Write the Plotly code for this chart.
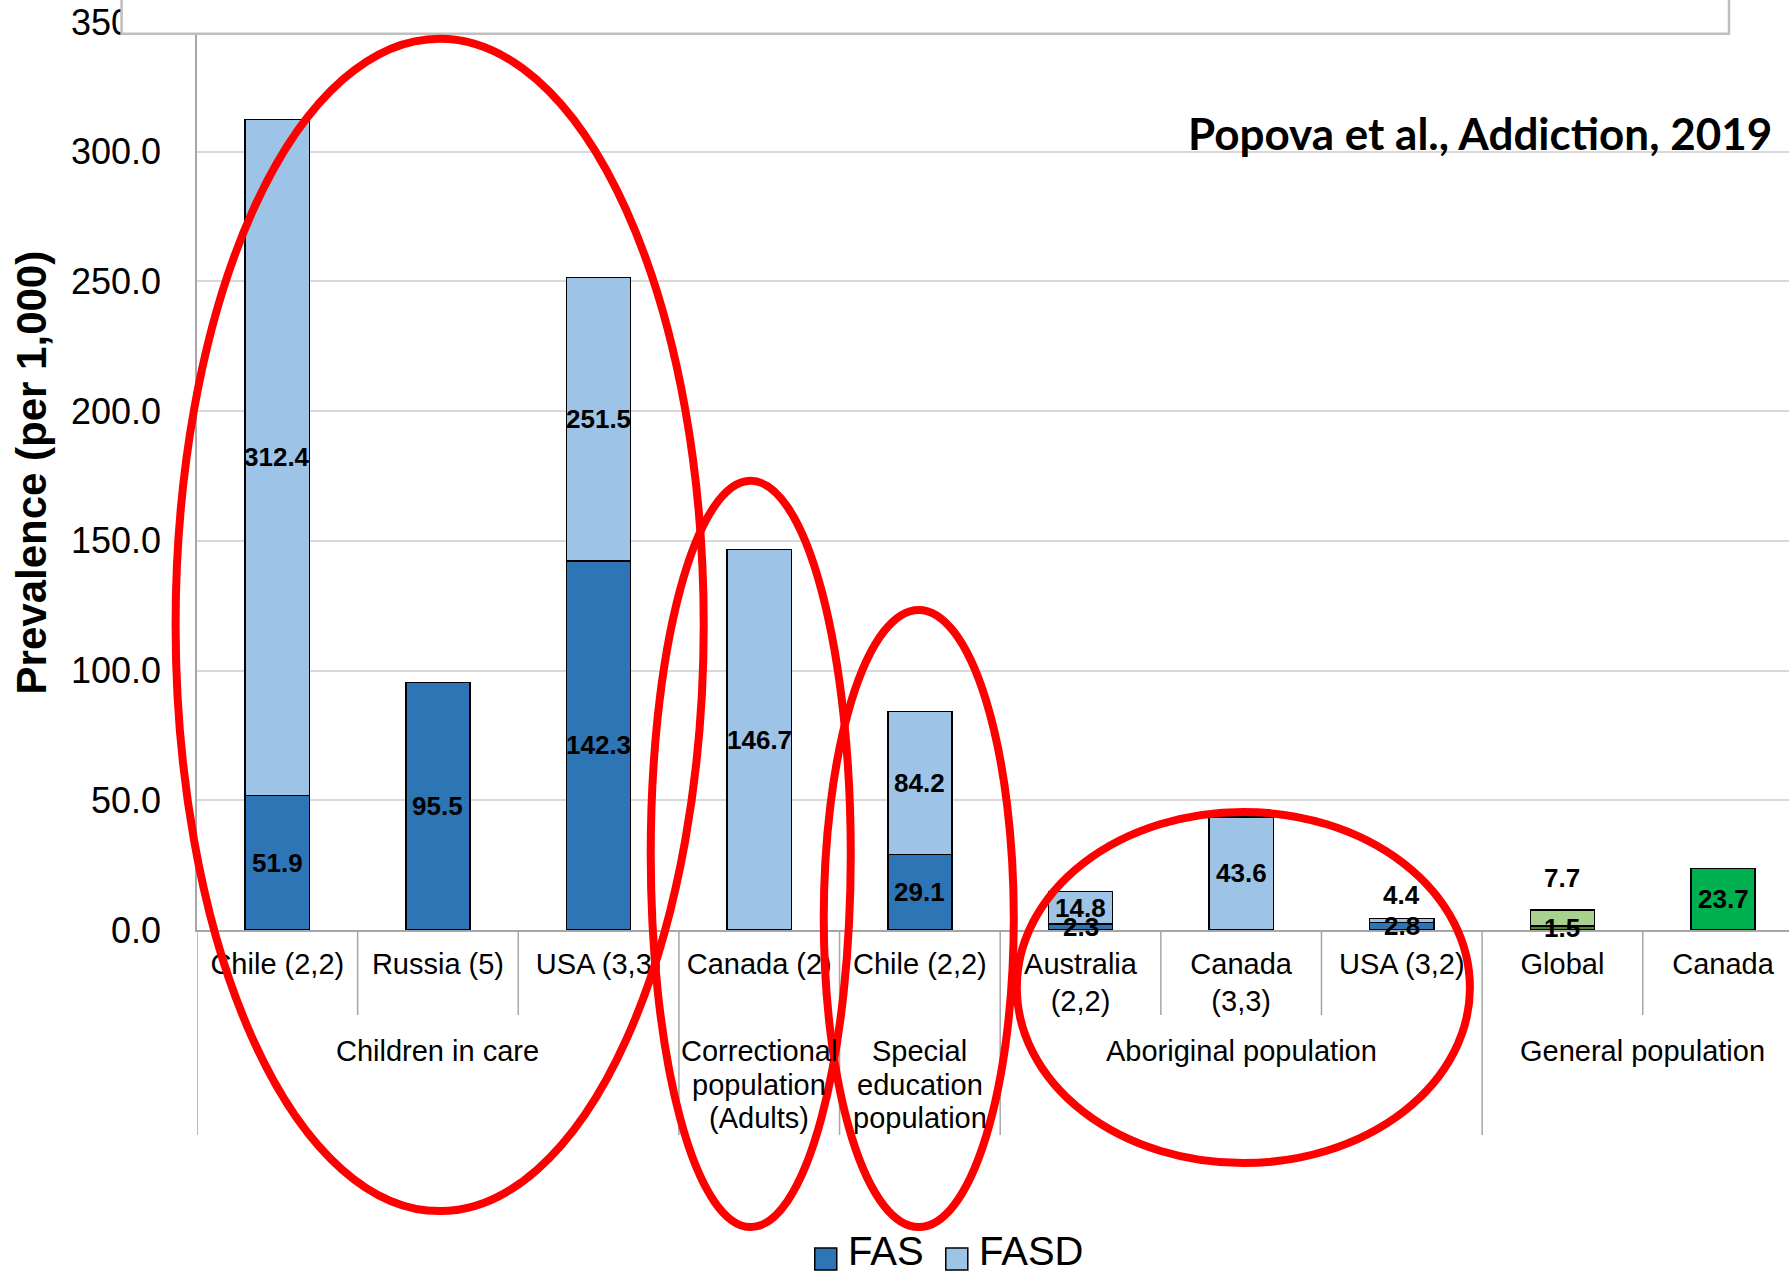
import plotly.graph_objects as go

# ---------------- data ----------------
categories = ["Chile (2,2)", "Russia (5)", "USA (3,3)", "Canada (2)", "Chile (2,2)",
              "Australia<br>(2,2)", "Canada<br>(3,3)", "USA (3,2)", "Global", "Canada"]
groups = [["Children in care"], ["Correctional", "population", "(Adults)"],
          ["Special", "education", "population"], ["Aboriginal population"], ["General population"]]
group_sizes = [3, 1, 1, 3, 2]
fas = [51.9, 95.5, 142.3, None, 29.1, 2.3, None, 2.8, 1.5, None]
fasd = [312.4, None, 251.5, 146.7, 84.2, 14.8, 43.6, 4.4, 7.7, 23.7]
y_ticks = [0, 50, 100, 150, 200, 250, 300, 350]
source_text = "Popova et al., Addiction, 2019"
legend_names = ["FAS", "FASD"]

# ---------------- styles ----------------
FONT = "Liberation Sans, Arial, sans-serif"
C_FAS = "#2E75B6"
C_FASD = "#9DC3E6"
fas_colors = [C_FAS] * 8 + ["#548235", C_FAS]
fasd_colors = [C_FASD] * 8 + ["#A9D18E", "#00B050"]
label_shift = {7: 26, 8: 40}   # pixel offsets for labels moved above small bars

W, H = 1789, 1275
L, T, B = 197.4, 22.3, 930.0
UNIT = 160.6
x_right = -0.5 + (W - L) / UNIT


def px_x(px):
    return (px - L) / (W - L)


def px_y(py):
    return (B - py) / (B - T)


x_idx = list(range(len(categories)))
fasd_diff = [None if v is None else v - (f or 0) for f, v in zip(fas, fasd)]

fig = go.Figure()
fig.add_trace(go.Bar(x=x_idx, y=fas, width=0.4, name=legend_names[0],
                     marker=dict(color=fas_colors, line=dict(color="black", width=1.5)),
                     showlegend=False, hoverinfo="skip"))
fig.add_trace(go.Bar(x=x_idx, y=fasd_diff, width=0.4, name=legend_names[1],
                     marker=dict(color=fasd_colors, line=dict(color="black", width=1.5)),
                     showlegend=False, hoverinfo="skip"))

annotations = []
shapes = []
LBL_FONT = dict(family=FONT, size=26, color="black", weight="bold")

# data labels
for i in x_idx:
    if fas[i] is not None:
        annotations.append(dict(x=i, y=fas[i] / 2, xref="x", yref="y", text=f"{fas[i]:.1f}",
                                showarrow=False, font=LBL_FONT, yanchor="middle"))
    if fasd[i] is not None:
        base = fas[i] or 0
        annotations.append(dict(x=i, y=(base + fasd[i]) / 2, xref="x", yref="y",
                                text=f"{fasd[i]:.1f}", showarrow=False,
                                yshift=label_shift.get(i, 0), font=LBL_FONT,
                                yanchor="middle"))

# category separators and group labels
sep_col = "#A6A6A6"
start = 0
bounds_long = [-0.5]
for lines, n in zip(groups, group_sizes):
    centre = start + (n - 1) / 2
    for j, line in enumerate(lines):
        annotations.append(dict(x=centre, y=px_y(1051 + 33.6 * j), xref="x", yref="paper",
                                text=line, showarrow=False, yanchor="middle",
                                font=dict(family=FONT, size=29, color="black")))
    for k in range(1, n):
        shapes.append(dict(type="line", xref="x", yref="paper", x0=start + k - 0.5,
                           x1=start + k - 0.5, y0=0, y1=px_y(1015),
                           line=dict(color=sep_col, width=1.5)))
    start += n
    bounds_long.append(start - 0.5)
for b in bounds_long:
    shapes.append(dict(type="line", xref="x", yref="paper", x0=b, x1=b, y0=0, y1=px_y(1135),
                       line=dict(color=sep_col, width=1.5)))

# y axis title
annotations.append(dict(x=px_x(32), y=px_y(473), xref="paper", yref="paper",
                        xanchor="center", yanchor="middle",
                        text="<b>Prevalence (per 1,000)</b>", textangle=-90, showarrow=False,
                        font=dict(family=FONT, size=42, color="black")))

# source text
annotations.append(dict(x=px_x(1774), y=px_y(133), xref="paper", yref="paper",
                        text=f"<b>{source_text}</b>", xanchor="right", yanchor="middle",
                        showarrow=False, font=dict(family="Lato, Liberation Sans, sans-serif",
                                                   size=44, color="black")))

# custom legend
for (sx, tx, name, col) in [(815, 849, legend_names[0], C_FAS), (946, 980, legend_names[1], C_FASD)]:
    shapes.append(dict(type="rect", xref="paper", yref="paper", x0=px_x(sx), x1=px_x(sx + 22),
                       y0=px_y(1270), y1=px_y(1248), fillcolor=col,
                       line=dict(color="black", width=1.5)))
    annotations.append(dict(x=px_x(tx - 3), y=px_y(1251), xref="paper", yref="paper", text=name,
                            xanchor="left", yanchor="middle", showarrow=False,
                            font=dict(family=FONT, size=40, color="black")))

# top (cut) white box
shapes.append(dict(type="rect", xref="paper", yref="paper", x0=px_x(122), x1=px_x(1729),
                   y0=px_y(34), y1=px_y(-10), fillcolor="white",
                   line=dict(color="#BFBFBF", width=2.5), layer="above"))

# red ellipses
for (x0, x1, y0, y1) in [(176, 704, 39, 1211), (651, 851, 481, 1227),
                         (824, 1014, 610, 1227), (1017, 1470, 812, 1163)]:
    shapes.append(dict(type="circle", xref="paper", yref="paper", x0=px_x(x0), x1=px_x(x1),
                       y0=px_y(y1), y1=px_y(y0), line=dict(color="#FF0000", width=8),
                       fillcolor="rgba(0,0,0,0)", layer="above"))

fig.update_layout(
    width=W, height=H,
    margin=dict(l=L, r=0, t=T, b=H - B, pad=0),
    barmode="stack",
    plot_bgcolor="white", paper_bgcolor="white",
    showlegend=False,
    annotations=annotations, shapes=shapes,
    font=dict(family=FONT, color="black"),
)
fig.update_xaxes(range=[-0.5, x_right], tickvals=x_idx, ticktext=categories,
                 showline=True, linecolor=sep_col, linewidth=1.5, showgrid=False,
                 ticks="", ticklabelstandoff=7, tickfont=dict(family=FONT, size=29, color="black"),
                 zeroline=False, fixedrange=True)
fig.update_yaxes(range=[0, 350], tickvals=y_ticks, ticktext=[f"{v:.1f}" for v in y_ticks],
                 showline=True, linecolor=sep_col, linewidth=1.5, showgrid=True,
                 gridcolor="#D9D9D9", gridwidth=1.5, ticks="", ticklabelstandoff=27,
                 tickfont=dict(family=FONT, size=36, color="black"), zeroline=False)

fig.write_html("out.html")
